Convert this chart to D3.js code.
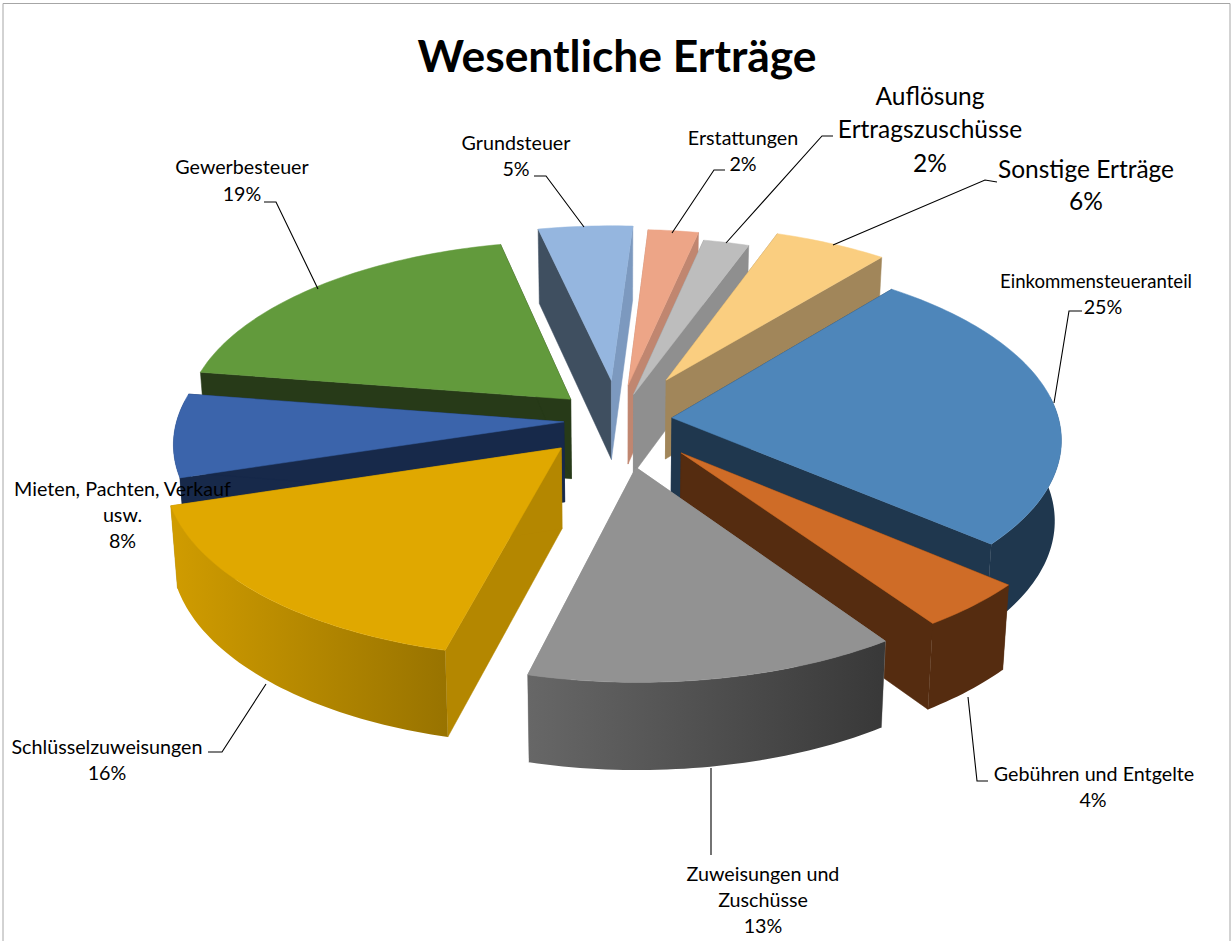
<!DOCTYPE html>
<html><head><meta charset="utf-8">
<script src="https://cdn.jsdelivr.net/npm/d3@7/dist/d3.min.js"></script>
<style>html,body{margin:0;padding:0;background:#fff;overflow:hidden}text{font-family:Lato,"Open Sans",sans-serif;fill:#000}</style>
</head><body><svg id="c" width="1232" height="941"></svg>
<script>
const categories=["Einkommensteueranteil","Gebühren und Entgelte","Zuweisungen und Zuschüsse","Schlüsselzuweisungen","Mieten, Pachten, Verkauf usw.","Gewerbesteuer","Grundsteuer","Erstattungen","Auflösung Ertragszuschüsse","Sonstige Erträge"];
const shares=[25.5,4.14,13.5,16.17,7.36,19.03,4.44,2.36,2.14,5.36];
const explosions=[.14,.24,.26,.21,.14,.17,.225,.2,.15,.26];
const topColors=["#4E86BA","#CF6C27","#929292","#E0A800","#3B64AB","#629A3C","#95B6DF","#EDA587","#BDBDBD","#FACE80"];
const faceColors=["#1F374E","#552C10","#8F8F8F","#B48700","#17294A","#273A18","#3F4F60","#C08670","#8F8F8F","#A1865A"];
const endFaceColors=["#1F374E","#552C10","#8F8F8F","#B48700","#17294A","#273A18","#7C99BF","#C08670","#8F8F8F","#A1865A"];
const wallStart=["#1F374E","#552C10","#676767","#D09C00","#17294A","#273A18","#3F4F60","#C08670","#8F8F8F","#A1865A"];
const wallEnd=["#1F374E","#552C10","#383838","#987300","#17294A","#273A18","#3F4F60","#C08670","#8F8F8F","#A1865A"];
const labelLines=[["Einkommensteueranteil","25%"],["Gebühren und Entgelte","4%"],["Zuweisungen und","Zuschüsse","13%"],["Schlüsselzuweisungen","16%"],["Mieten, Pachten, Verkauf","usw.","8%"],["Gewerbesteuer","19%"],["Grundsteuer","5%"],["Erstattungen","2%"],["Auflösung","Ertragszuschüsse","2%"],["Sonstige Erträge","6%"]];
const title="Wesentliche Erträge";

const W=1232,H=941,cx=618,cy=420,R=387,Rk=180,persp=.11,depth=80,startDeg=39;
const svg=d3.select("#c");const defs=svg.append("defs");
svg.append("path").attr("d",`M3,${H}V3.5H${W-2}V${H}`).attr("fill","none").attr("stroke","#a6a6a6").attr("stroke-width",1);

const project=(X,Y,z)=>{const s=1/(1-persp*Y);const shrink=z?0.985:1;
  return [cx+R*X*s*shrink, cy+Rk*Y*s+(z?depth*(1+(s-1)*.6):0)];};
const line=d3.line();
const start=startDeg*Math.PI/180;
const arcs=d3.pie().sort(null).startAngle(start).endAngle(start+2*Math.PI)(shares);
const slices=arcs.map((a,i)=>{const mid=(a.startAngle+a.endAngle)/2,e=explosions[i];
  const ox=e*Math.sin(mid),oy=-e*Math.cos(mid);
  const n=Math.max(4,Math.ceil((a.endAngle-a.startAngle)/0.02));
  const ts=d3.range(n+1).map(j=>a.startAngle+(a.endAngle-a.startAngle)*j/n);
  const rim=ts.map(t=>[ox+Math.sin(t),oy-Math.cos(t)]);
  const front=ts.filter(t=>Math.cos(t)<0.12).map(t=>[ox+Math.sin(t),oy-Math.cos(t)]);
  return {i,ox,oy,rim,front,my:oy-Math.cos(mid)};});
const P=z=>d=>project(d[0],d[1],z);
slices.sort((a,b)=>a.my-b.my).forEach(sl=>{
  const i=sl.i,c=[sl.ox,sl.oy],rim=sl.rim,g=svg.append("g").attr("class","slice");
  const topRim=rim.map(P(0)),botRim=rim.map(P(1));
  const cT=project(c[0],c[1],0),cB=project(c[0],c[1],1);
  const last=rim.length-1;
  g.append("path").attr("d",line([cT,topRim[0],botRim[0],cB])+"Z").attr("fill",faceColors[i]).attr("stroke",faceColors[i]).attr("stroke-width",.5);
  g.append("path").attr("d",line([cT,topRim[last],botRim[last],cB])+"Z").attr("fill",endFaceColors[i]).attr("stroke",endFaceColors[i]).attr("stroke-width",.5);
  if(sl.front.length>1){
    const ft=sl.front.map(P(0)),fb=sl.front.map(P(1));
    const xs=ft.concat(fb).map(d=>d[0]);
    const gid="w"+i;
    const lg=defs.append("linearGradient").attr("id",gid).attr("gradientUnits","userSpaceOnUse").attr("x1",d3.min(xs)).attr("x2",d3.max(xs)).attr("y1",0).attr("y2",0);
    lg.append("stop").attr("offset",0).attr("stop-color",wallStart[i]);
    lg.append("stop").attr("offset",1).attr("stop-color",wallEnd[i]);
    g.append("path").attr("d",line(ft.concat(fb.slice().reverse()))+"Z").attr("fill",`url(#${gid})`);
  }
  g.append("path").attr("d",line([cT].concat(topRim))+"Z").attr("fill",topColors[i]).attr("stroke",topColors[i]).attr("stroke-width",.5);
});

const leaders=[[[1082,311],[1069,311],[1054,403]],[[988,781],[977,781],[968,697]],[[711,855],[711,768]],[[208,752],[222,752],[266,684]],[],[[264,202],[276,202],[318,289]],[[534,176],[546,176],[584,227]],[[725,170],[714,170],[672,233]],[[833,136],[822,136],[726,243]],[[997,182],[985,180],[833,245]]];
leaders.forEach(l=>{if(l.length)svg.append("path").attr("d",line(l)).attr("fill","none").attr("stroke","#000").attr("stroke-width",1.1);});

const labelPos=[{x:[1096,1103],y:[288,314],s:19.7,len:192},{x:[1094,1093],y:[781,807],s:19.7},{x:[763,763,763],y:[881,907,933],s:19.7},{x:[107,107],y:[754,780],s:19.7},{x:[122.5,122.5,122.5],y:[496,522,548],s:19.7},{x:[242,242],y:[174,201],s:19.7},{x:[516,516],y:[150,176],s:19.7},{x:[743,743],y:[145,171],s:19.7},{x:[930,930,930],y:[105,138,172],s:24.5},{x:[1086,1086],y:[178,210],s:24.5}];
labelLines.forEach((ls,i)=>{const p=labelPos[i];ls.forEach((t,j)=>{const el=svg.append("text").attr("x",p.x[j]).attr("y",p.y[j]).attr("text-anchor","middle").attr("font-size",p.s).text(t);
  if(p.len&&j===0)el.attr("textLength",p.len).attr("lengthAdjust","spacingAndGlyphs");});});
svg.append("text").attr("x",617).attr("y",72).attr("text-anchor","middle").attr("font-size",44.4).attr("font-weight",700).text(title);
</script></body></html>
